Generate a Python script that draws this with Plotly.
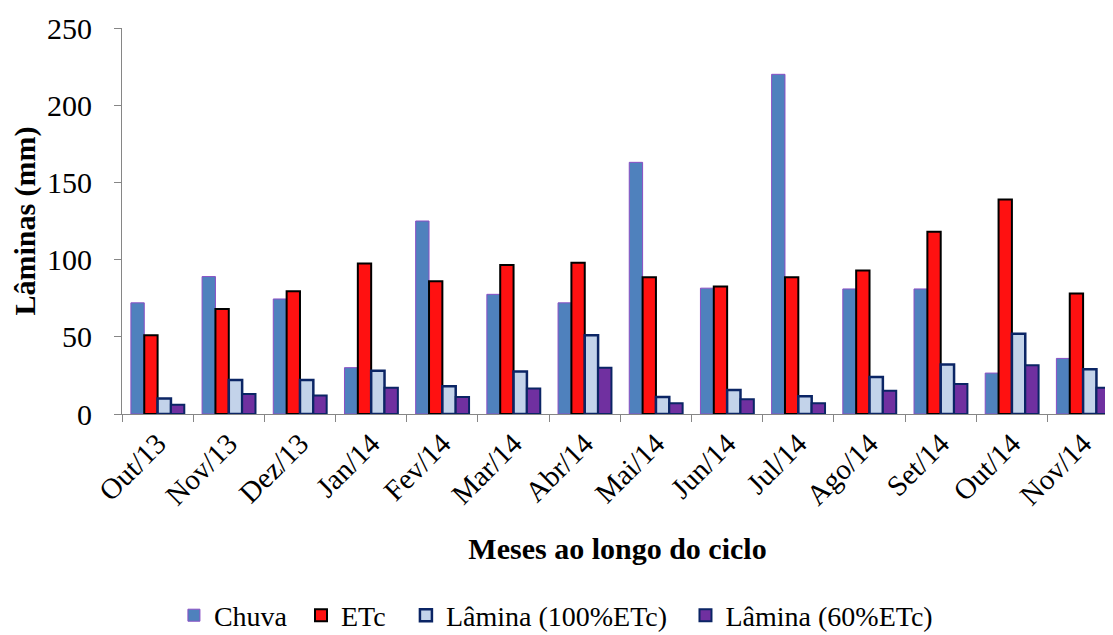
import plotly.graph_objects as go

meses = ["Out/13", "Nov/13", "Dez/13", "Jan/14", "Fev/14", "Mar/14", "Abr/14",
         "Mai/14", "Jun/14", "Jul/14", "Ago/14", "Set/14", "Out/14", "Nov/14"]
chuva = [72, 89, 74.5, 30, 125, 77.5, 72, 163, 81.5, 220, 81, 81, 26.5, 36]
etc = [51, 68, 79.5, 97.5, 86, 96.5, 98, 88.5, 82.5, 88.5, 93, 118, 139, 78]
lamina100 = [10, 22, 22, 28, 18, 27.5, 51, 11, 15.5, 11.5, 24, 32, 52, 29]
lamina60 = [6, 13, 12, 17, 11, 16.5, 30, 7, 9.5, 7, 15, 19.5, 31.5, 17]

serif = "Liberation Serif"

fig = go.Figure()
fig.add_trace(go.Bar(name="Chuva", x=meses, y=chuva, legend="legend",
                     marker=dict(color="#4F81BD", line=dict(color="#8A4FC4", width=1))))
fig.add_trace(go.Bar(name="ETc", x=meses, y=etc, legend="legend2",
                     marker=dict(color="#FF1111", line=dict(color="#000000", width=2))))
fig.add_trace(go.Bar(name="Lâmina (100%ETc)", x=meses, y=lamina100, legend="legend3",
                     marker=dict(color="#C3D3EA", line=dict(color="#0B2565", width=2.5))))
fig.add_trace(go.Bar(name="Lâmina (60%ETc)", x=meses, y=lamina60, legend="legend4",
                     marker=dict(color="#7030A0", line=dict(color="#0B2565", width=2))))

leg_common = dict(orientation="h", xanchor="left", y=-0.522, yanchor="middle",
                  font=dict(family=serif, size=28, color="black"),
                  bgcolor="rgba(0,0,0,0)", borderwidth=0)

# page body has an 8px margin, so the figure is 8px smaller than the window
fig.update_layout(
    width=1105, height=627,
    margin=dict(l=114, r=0, t=20, b=221, autoexpand=False),
    paper_bgcolor="white", plot_bgcolor="white",
    barmode="group", bargap=0.25, bargroupgap=0,
    font=dict(family=serif, color="black", size=28),
    showlegend=True,
    legend=dict(x=0.0524, **leg_common),
    legend2=dict(x=0.1806, **leg_common),
    legend3=dict(x=0.2865, **leg_common),
    legend4=dict(x=0.5686, **leg_common),
    xaxis=dict(
        type="category", range=[-0.5, 13.42], showgrid=False,
        showline=True, linecolor="#868686", linewidth=1,
        ticks="outside", tickson="boundaries", ticklen=7, tickcolor="#868686",
        tickangle=-45, tickfont=dict(family=serif, size=29),
        title=dict(text="<b>Meses ao longo do ciclo</b>", font=dict(family=serif, size=30), standoff=27),
        automargin=False,
    ),
    yaxis=dict(
        range=[0, 250], tickvals=[0, 50, 100, 150, 200, 250], showgrid=False, zeroline=False,
        showline=True, linecolor="#868686", linewidth=1,
        ticks="outside", ticklen=7, tickcolor="#868686",
        tickfont=dict(family=serif, size=30), ticklabelstandoff=16,
        title=dict(text="<b>Lâminas (mm)</b>", font=dict(family=serif, size=30), standoff=2),
        automargin=False,
    ),
)

fig.write_html("out.html")
